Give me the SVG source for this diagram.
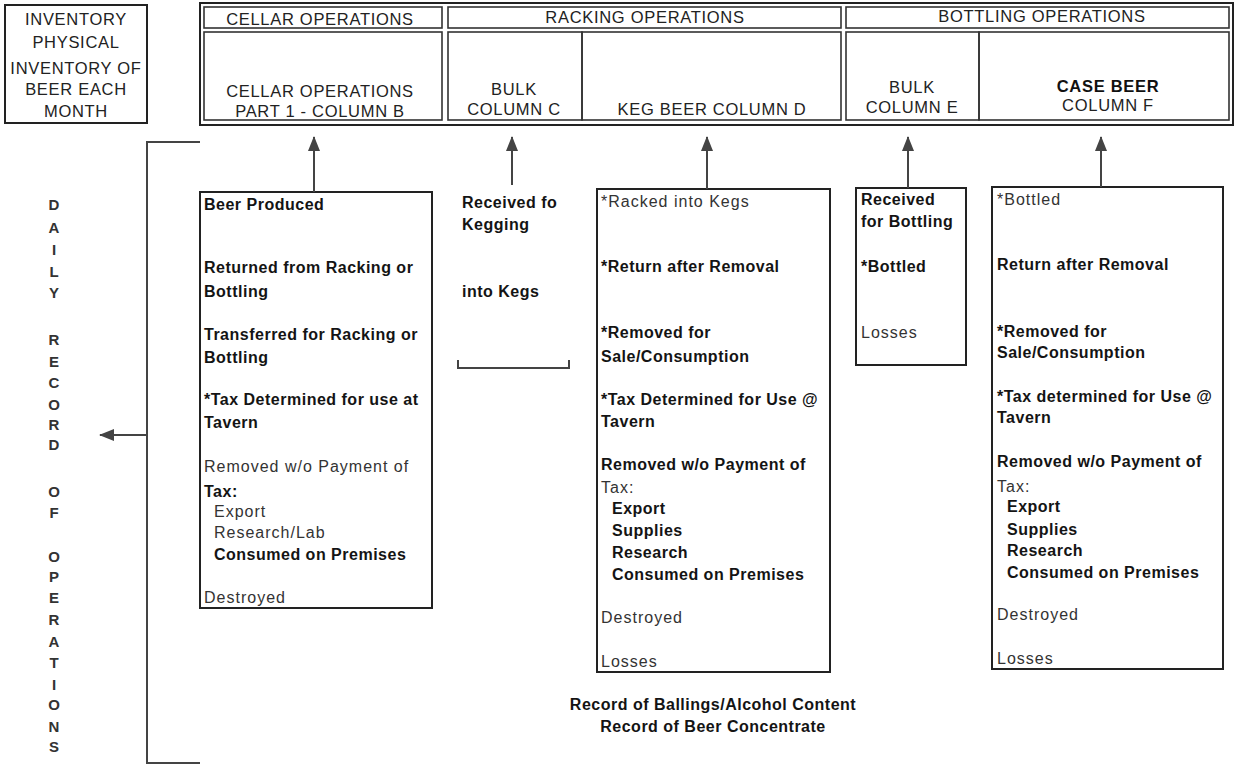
<svg xmlns="http://www.w3.org/2000/svg" width="1237" height="766" viewBox="0 0 1237 766">
<style>
text{font-family:"Liberation Sans",Arial,sans-serif;font-size:16px}
.box{fill:none;stroke:#222;stroke-width:2}
.cell{fill:none;stroke:#333;stroke-width:1.6}
.hd{letter-spacing:0.7px;font-size:16.5px;fill:#222;text-anchor:middle}
.hb{letter-spacing:0.7px;font-size:16.5px;fill:#111;text-anchor:middle;font-weight:bold}
.b{font-weight:bold;letter-spacing:0.5px;fill:#141414}
.l{letter-spacing:1px;fill:#333}
.v{font-size:15px;font-weight:bold;text-anchor:middle;fill:#333}
.rec{font-weight:bold;letter-spacing:0.5px;fill:#141414;text-anchor:middle}
.con{fill:none;stroke:#444;stroke-width:2}
</style>
<defs>
<marker id="ah" markerUnits="userSpaceOnUse" markerWidth="15" markerHeight="12" refX="14" refY="6" orient="auto">
<path d="M0,0 L15,6 L0,12 z" fill="#444"/>
</marker>
</defs>
<rect width="1237" height="766" fill="#fff"/>

<g id="inventory">
<rect class="box" x="5" y="5" width="142" height="118"/>
<text class="hd" x="76" y="25">INVENTORY</text>
<text class="hd" x="76" y="48">PHYSICAL</text>
<text class="hd" x="76" y="74">INVENTORY OF</text>
<text class="hd" x="76" y="95">BEER EACH</text>
<text class="hd" x="76" y="117">MONTH</text>
</g>

<g id="header">
<rect class="box" x="200" y="3" width="1033" height="122"/>
<rect class="cell" x="204" y="7" width="238" height="21"/>
<rect class="cell" x="448" y="7" width="393" height="21"/>
<rect class="cell" x="846" y="7" width="383" height="21"/>
<rect class="cell" x="204" y="32" width="238" height="88"/>
<rect class="cell" x="448" y="32" width="134" height="88"/>
<rect class="cell" x="582" y="32" width="259" height="88"/>
<rect class="cell" x="846" y="32" width="133" height="88"/>
<rect class="cell" x="979" y="32" width="250" height="88"/>
<text class="hd" x="320" y="25">CELLAR OPERATIONS</text>
<text class="hd" x="645" y="23">RACKING OPERATIONS</text>
<text class="hd" x="1042" y="22">BOTTLING OPERATIONS</text>
<text class="hd" x="320" y="97">CELLAR OPERATIONS</text>
<text class="hd" x="320" y="117">PART 1 - COLUMN B</text>
<text class="hd" x="514" y="95">BULK</text>
<text class="hd" x="514" y="115">COLUMN C</text>
<text class="hd" x="712" y="115">KEG BEER COLUMN D</text>
<text class="hd" x="912" y="93">BULK</text>
<text class="hd" x="912" y="113">COLUMN E</text>
<text class="hb" x="1108" y="92">CASE BEER</text>
<text class="hd" x="1108" y="111">COLUMN F</text>
</g>

<g id="daily-record">
<text class="v" x="54" y="210">D</text>
<text class="v" x="54" y="233">A</text>
<text class="v" x="54" y="255">I</text>
<text class="v" x="54" y="277">L</text>
<text class="v" x="54" y="298">Y</text>
<text class="v" x="54" y="345">R</text>
<text class="v" x="54" y="367">E</text>
<text class="v" x="54" y="388">C</text>
<text class="v" x="54" y="410">O</text>
<text class="v" x="54" y="430">R</text>
<text class="v" x="54" y="450">D</text>
<text class="v" x="54" y="497">O</text>
<text class="v" x="54" y="518">F</text>
<text class="v" x="54" y="562">O</text>
<text class="v" x="54" y="582">P</text>
<text class="v" x="54" y="603">E</text>
<text class="v" x="54" y="625">R</text>
<text class="v" x="54" y="647">A</text>
<text class="v" x="54" y="668">T</text>
<text class="v" x="54" y="690">I</text>
<text class="v" x="54" y="710">O</text>
<text class="v" x="54" y="732">N</text>
<text class="v" x="54" y="752">S</text>
</g>

<g id="cellar">
<rect class="box" x="200" y="192" width="232" height="416" stroke-width="2.5"/>
<text class="b" x="204" y="210">Beer Produced</text>
<text class="b" x="204" y="273">Returned from Racking or</text>
<text class="b" x="204" y="297">Bottling</text>
<text class="b" x="204" y="340">Transferred for Racking or</text>
<text class="b" x="204" y="363">Bottling</text>
<text class="b" x="204" y="405">*Tax Determined for use at</text>
<text class="b" x="204" y="428">Tavern</text>
<text class="l" x="204" y="472">Removed w/o Payment of</text>
<text class="b" x="204" y="497">Tax:</text>
<text class="l" x="214" y="517">Export</text>
<text class="l" x="214" y="538">Research/Lab</text>
<text class="b" x="214" y="560">Consumed on Premises</text>
<text class="l" x="204" y="603">Destroyed</text>
</g>

<g id="bulk-c">
<text class="b" x="462" y="208">Received fo</text>
<text class="b" x="462" y="230">Kegging</text>
<text class="b" x="462" y="297">into Kegs</text>
<path d="M458,360 L458,368 L569,368 L569,360" fill="none" stroke="#444" stroke-width="2"/>
</g>

<g id="keg-d">
<rect class="box" x="597" y="189" width="233" height="483"/>
<text class="l" x="601" y="207">*Racked into Kegs</text>
<text class="b" x="601" y="272">*Return after Removal</text>
<text class="b" x="601" y="338">*Removed for</text>
<text class="b" x="601" y="362">Sale/Consumption</text>
<text class="b" x="601" y="405">*Tax Determined for Use @</text>
<text class="b" x="601" y="427">Tavern</text>
<text class="b" x="601" y="470">Removed w/o Payment of</text>
<text class="l" x="601" y="493">Tax:</text>
<text class="b" x="612" y="514">Export</text>
<text class="b" x="612" y="536">Supplies</text>
<text class="b" x="612" y="558">Research</text>
<text class="b" x="612" y="580">Consumed on Premises</text>
<text class="l" x="601" y="623">Destroyed</text>
<text class="l" x="601" y="667">Losses</text>
</g>

<g id="bulk-e">
<rect class="box" x="856" y="188" width="110" height="177" stroke-width="2.5"/>
<text class="b" x="861" y="205">Received</text>
<text class="b" x="861" y="227">for Bottling</text>
<text class="b" x="861" y="272">*Bottled</text>
<text class="l" x="861" y="338" fill="#1a1a1a">Losses</text>
</g>

<g id="case-f">
<rect class="box" x="992" y="187" width="231" height="482"/>
<text class="l" x="997" y="205">*Bottled</text>
<text class="b" x="997" y="270">Return after Removal</text>
<text class="b" x="997" y="337">*Removed for</text>
<text class="b" x="997" y="358">Sale/Consumption</text>
<text class="b" x="997" y="402">*Tax determined for Use @</text>
<text class="b" x="997" y="423">Tavern</text>
<text class="b" x="997" y="467">Removed w/o Payment of</text>
<text class="l" x="997" y="492">Tax:</text>
<text class="b" x="1007" y="512">Export</text>
<text class="b" x="1007" y="535">Supplies</text>
<text class="b" x="1007" y="556">Research</text>
<text class="b" x="1007" y="578">Consumed on Premises</text>
<text class="l" x="997" y="620">Destroyed</text>
<text class="l" x="997" y="664">Losses</text>
</g>

<g id="records">
<text class="rec" x="713" y="710">Record of Ballings/Alcohol Content</text>
<text class="rec" x="713" y="732">Record of Beer Concentrate</text>
</g>

<g id="connectors">
<line class="con" x1="314" y1="192" x2="314" y2="137" marker-end="url(#ah)"/>
<line class="con" x1="512" y1="185" x2="512" y2="137" marker-end="url(#ah)"/>
<line class="con" x1="707" y1="189" x2="707" y2="137" marker-end="url(#ah)"/>
<line class="con" x1="908" y1="188" x2="908" y2="137" marker-end="url(#ah)"/>
<line class="con" x1="1101" y1="187" x2="1101" y2="137" marker-end="url(#ah)"/>
<path class="con" d="M200,142 L147,142 L147,763 L200,763"/>
<line class="con" x1="147" y1="435" x2="100" y2="435" marker-end="url(#ah)"/>
</g>
</svg>
